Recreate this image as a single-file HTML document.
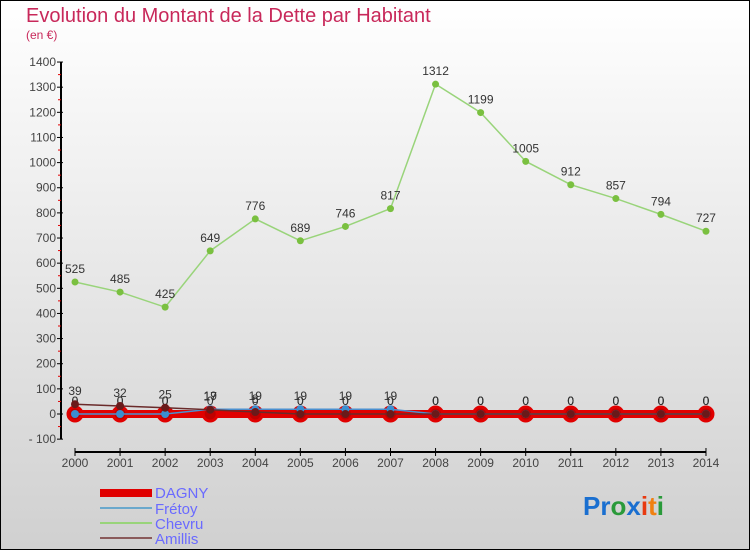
<!DOCTYPE html>
<html><head><meta charset="utf-8"><style>
body{margin:0}
#c{width:750px;height:550px;position:relative;font-family:"Liberation Sans",sans-serif;}
</style></head><body>
<div id="c">
<svg id="s" width="750" height="550" xmlns="http://www.w3.org/2000/svg">
<defs><linearGradient id="bg" x1="0" y1="0" x2="0" y2="1"><stop offset="0" stop-color="#ffffff"/><stop offset="1" stop-color="#d0d0d0"/></linearGradient></defs>
<rect x="0.5" y="0.5" width="749" height="549" fill="url(#bg)" stroke="#000"/>
<text x="26" y="22" font-size="20" fill="#c8285a">Evolution du Montant de la Dette par Habitant</text>
<text x="26" y="39" font-size="12" fill="#c8285a">(en €)</text>
<g id="axes"></g><g id="series"></g>
<g>
<rect x="100" y="489" width="52" height="8" fill="#e00000"/>
<text x="155" y="498" font-size="15" fill="#6a6aff">DAGNY</text>
<line x1="100" y1="508" x2="152" y2="508" stroke="#6aa8cc" stroke-width="2"/>
<text x="155" y="514" font-size="15" fill="#6a6aff">Frétoy</text>
<line x1="100" y1="523" x2="152" y2="523" stroke="#99d47a" stroke-width="2"/>
<text x="155" y="529" font-size="15" fill="#6a6aff">Chevru</text>
<line x1="100" y1="538" x2="152" y2="538" stroke="#8a5a5a" stroke-width="2"/>
<text x="155" y="544" font-size="15" fill="#6a6aff">Amillis</text>
</g>
<g font-size="26" font-weight="bold">
<text x="583" y="515"><tspan fill="#1a6fd0">Pr</tspan><tspan fill="#2a9a3a">o</tspan><tspan fill="#1a6fd0">x</tspan><tspan fill="#e83a10">i</tspan><tspan fill="#f08010">t</tspan><tspan fill="#2a9a3a">i</tspan></text>
</g>
</svg></div>
<script>
const years=[2000,2001,2002,2003,2004,2005,2006,2007,2008,2009,2010,2011,2012,2013,2014];
const dagny=[0,0,0,0,0,0,0,0,0,0,0,0,0,0,0];
const fretoy=[0,0,0,19,19,19,19,19,0,0,0,0,0,0,0];
const chevru=[525,485,425,649,776,689,746,817,1312,1199,1005,912,857,794,727];
const amillis=[39,32,25,17,8,0,0,0,0,0,0,0,0,0,0];
const yTicks=[-100,0,100,200,300,400,500,600,700,800,900,1000,1100,1200,1300,1400];
const NS="http://www.w3.org/2000/svg";
const X=y=>75+(y-2000)*45.07;
const Y=v=>414-v*0.2514;
const ax=document.getElementById('axes'),sr=document.getElementById('series');
function mk(tag,at,par){const e=document.createElementNS(NS,tag);for(const k in at)e.setAttribute(k,at[k]);par.appendChild(e);return e;}
let l=mk('line',{x1:61,y1:Y(1400),x2:61,y2:Y(-100),stroke:'#000','stroke-width':2},ax);


l=mk('line',{x1:X(2000),y1:452,x2:X(2014),y2:452,stroke:'#000','stroke-width':2},ax);


yTicks.forEach(t=>{
 mk('line',{x1:57,y1:Y(t),x2:63,y2:Y(t),stroke:'#000'},ax);
 if(t<1400) mk('line',{x1:58,y1:Y(t+50),x2:61,y2:Y(t+50),stroke:'#e00000'},ax);
 const tx=mk('text',{x:56,y:Y(t)+4,'text-anchor':'end','font-size':12,fill:'#444'},ax);
 tx.textContent=t<0?'- '+(-t):t;
 
 
});
years.forEach(yr=>{
 mk('line',{x1:X(yr),y1:448,x2:X(yr),y2:456,stroke:'#000'},ax);
 const tx=mk('text',{x:X(yr),y:467,'text-anchor':'middle','font-size':12,fill:'#444'},ax);
 tx.textContent=yr;
 
 
});
function series(d,name,color,w,r,fill,labels){
 const g=mk('g',{},sr);
 
 
 const p=mk('polyline',{points:d.map((v,i)=>X(years[i])+','+Y(v)).join(' '),fill:'none',stroke:color,'stroke-width':w},g);
 d.forEach((v,i)=>{
  const c=mk('circle',{cx:X(years[i]),cy:Y(v),r:r,fill:fill,stroke:name=='dagny'?'#e00000':'none','stroke-width':3},g);
  
  
  if(labels){const t=mk('text',{x:X(years[i]),y:Y(v)-9,'text-anchor':'middle','font-size':12,fill:'#333'},g);t.textContent=v;
  
  }
 });
}
series(chevru,'chevru','#99d47a',1.5,3.5,'#7ac040',true);
series(dagny,'dagny','#e00000',8,7,'#c00000',true);
series(fretoy,'fretoy','#4a90d0',1.5,4,'#3a8ed0',true);
series(amillis,'amillis','#6a2a2a',1.5,4,'#6a1a1a',true);
</script>
</body></html>
